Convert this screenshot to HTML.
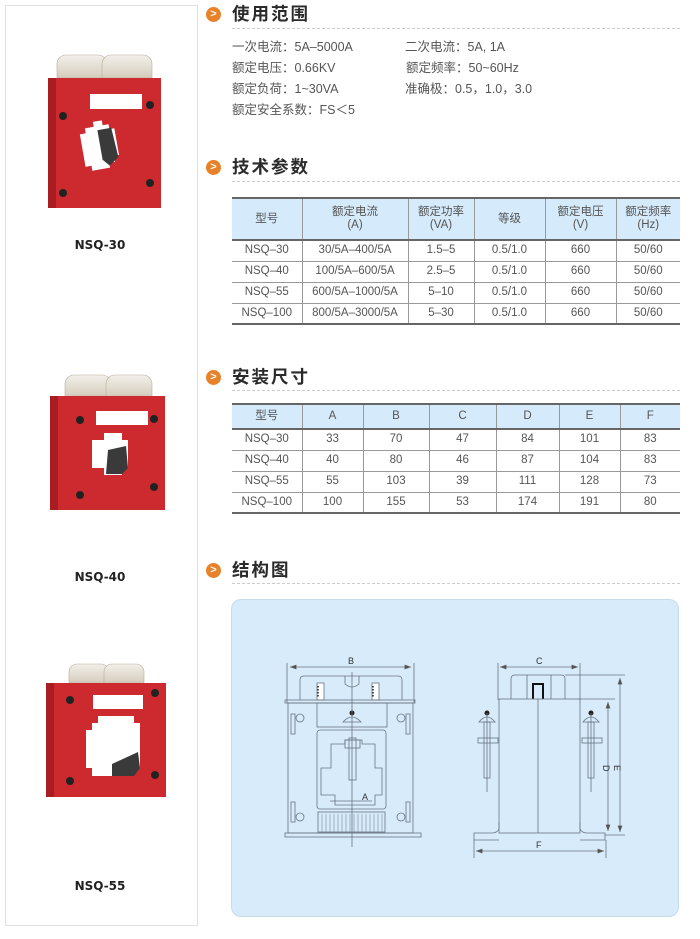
<!DOCTYPE html>
<html><head><meta charset="utf-8"><style>
*{margin:0;padding:0;box-sizing:border-box}
body{width:700px;height:939px;background:#fff;position:relative;overflow:hidden;font-family:"Liberation Sans","Noto Sans CJK SC",sans-serif;color:#555}
.abs{position:absolute}
.h{position:absolute;left:232px;font-size:17.5px;letter-spacing:2px;color:#2a2a2a;font-family:"Liberation Sans","Noto Sans CJK SC",sans-serif;line-height:20px;font-weight:bold}
.ic{position:absolute;left:206px;width:15px;height:15px;border-radius:50%;background:#e8822a;color:#fff;font-size:11px;font-weight:bold;line-height:15px;text-align:center}
.dash{position:absolute;left:232px;width:448px;border-top:1px dashed #ccc}
.sp{position:absolute;font-size:12.5px;color:#555;line-height:16px}
table{position:absolute;border-collapse:collapse;font-size:11.5px;color:#555;table-layout:fixed}
td{text-align:center;border-left:1px solid #999;border-bottom:1px solid #999;padding:0;line-height:13px}
td:first-child{border-left:none}
tr.hd td{background:#d5eafa;border-bottom:2px solid #666}
table{border-top:2px solid #666}
tr:last-child td{border-bottom:2px solid #666}
.lbl{position:absolute;font-size:12px;font-weight:bold;color:#222;width:100px;text-align:center;font-family:"DejaVu Sans","Liberation Sans",sans-serif}
</style></head><body>
<div class="abs" style="left:5px;top:5px;width:193px;height:921px;border:1px solid #e2e2e2"></div>

<svg class="abs" style="left:0;top:0" width="200" height="939">
 <defs><linearGradient id="cap" x1="0" y1="0" x2="0" y2="1"><stop offset="0" stop-color="#f3f0ea"/><stop offset="0.6" stop-color="#d9d2c4"/><stop offset="1" stop-color="#a89a86"/></linearGradient></defs>
 <!-- P1 -->
 <rect x="57" y="55" width="50" height="33" rx="9" fill="url(#cap)" stroke="#b8ad9a" stroke-width="0.6"/>
 <rect x="102" y="55" width="50" height="33" rx="9" fill="url(#cap)" stroke="#b8ad9a" stroke-width="0.6"/>
 <rect x="48" y="78" width="113" height="130" fill="#cc2a2e"/>
 <rect x="48" y="78" width="8" height="130" fill="#a91c22"/>
 <rect x="90" y="94" width="52" height="15" fill="#fff"/>
 <polygon points="97,121 106,121 106,126 112,126 112,131 117,131 117,158 112,158 112,164 106,164 106,169 88,169 88,164 82,164 82,131 88,131 88,126 97,126" fill="#fff" transform="rotate(-10 100 145)"/>
 <polygon points="100,130 114,130 116,160 106,167 100,160" fill="#3a3a3a" transform="rotate(-10 100 145)"/>
 <circle cx="63" cy="116" r="4" fill="#222"/><circle cx="150" cy="105" r="4" fill="#222"/>
 <circle cx="63" cy="193" r="4" fill="#222"/><circle cx="150" cy="183" r="4" fill="#222"/>
 <!-- P2 -->
 <rect x="65" y="375" width="46" height="31" rx="9" fill="url(#cap)" stroke="#b8ad9a" stroke-width="0.6"/>
 <rect x="106" y="375" width="46" height="31" rx="9" fill="url(#cap)" stroke="#b8ad9a" stroke-width="0.6"/>
 <rect x="50" y="396" width="115" height="114" fill="#cc2a2e"/>
 <rect x="50" y="396" width="8" height="114" fill="#a91c22"/>
 <rect x="96" y="411" width="52" height="14" fill="#fff"/>
 <polygon points="104,433 122,433 122,440 128,440 128,468 122,468 122,475 104,475 104,468 92,468 92,440 104,440" fill="#fff"/>
 <polygon points="108,450 126,446 128,468 122,474 106,474" fill="#3a3a3a"/>
 <circle cx="80" cy="420" r="4" fill="#222"/><circle cx="154" cy="419" r="4" fill="#222"/>
 <circle cx="80" cy="495" r="4" fill="#222"/><circle cx="154" cy="487" r="4" fill="#222"/>
 <!-- P3 -->
 <rect x="69" y="664" width="40" height="27" rx="8" fill="url(#cap)" stroke="#b8ad9a" stroke-width="0.6"/>
 <rect x="104" y="664" width="40" height="27" rx="8" fill="url(#cap)" stroke="#b8ad9a" stroke-width="0.6"/>
 <rect x="46" y="683" width="120" height="114" fill="#cc2a2e"/>
 <rect x="46" y="683" width="8" height="114" fill="#a91c22"/>
 <rect x="93" y="695" width="50" height="14" fill="#fff"/>
 <polygon points="98,716 134,716 134,723 140,723 140,768 134,768 134,776 92,776 92,768 86,768 86,730 92,730 92,723 98,723" fill="#fff"/>
 <polygon points="112,764 138,752 140,768 134,776 112,776" fill="#3a3a3a"/>
 <circle cx="70" cy="700" r="4" fill="#222"/><circle cx="155" cy="693" r="4" fill="#222"/>
 <circle cx="70" cy="781" r="4" fill="#222"/><circle cx="155" cy="775" r="4" fill="#222"/>
</svg>
<div class="lbl" style="left:50px;top:238px">NSQ-30</div>
<div class="lbl" style="left:50px;top:570px">NSQ-40</div>
<div class="lbl" style="left:50px;top:879px">NSQ-55</div>

<div class="ic" style="top:7px">&gt;</div><div class="h" style="top:4px">使用范围</div><div class="dash" style="top:28px"></div>
<div class="sp" style="left:232px;top:39px">一次电流：5A–5000A</div>
<div class="sp" style="left:405px;top:39px">二次电流：5A, 1A</div>
<div class="sp" style="left:232px;top:60px">额定电压：0.66KV</div>
<div class="sp" style="left:406px;top:60px">额定频率：50~60Hz</div>
<div class="sp" style="left:232px;top:81px">额定负荷：1~30VA</div>
<div class="sp" style="left:405px;top:81px">准确极：0.5，1.0，3.0</div>
<div class="sp" style="left:232px;top:102px">额定安全系数：FS＜5</div>

<div class="ic" style="top:160px">&gt;</div><div class="h" style="top:157px">技术参数</div><div class="dash" style="top:181px"></div>
<table style="left:232px;top:197px;width:448px">
<colgroup><col style="width:70px"><col style="width:106px"><col style="width:66px"><col style="width:71px"><col style="width:71px"><col style="width:64px"></colgroup>
<tr class="hd" style="height:42px"><td>型号</td><td>额定电流<br>(A)</td><td>额定功率<br>(VA)</td><td>等级</td><td>额定电压<br>(V)</td><td>额定频率<br>(Hz)</td></tr>
<tr style="height:21px"><td>NSQ–30</td><td>30/5A–400/5A</td><td>1.5–5</td><td>0.5/1.0</td><td>660</td><td>50/60</td></tr>
<tr style="height:21px"><td>NSQ–40</td><td>100/5A–600/5A</td><td>2.5–5</td><td>0.5/1.0</td><td>660</td><td>50/60</td></tr>
<tr style="height:21px"><td>NSQ–55</td><td>600/5A–1000/5A</td><td>5–10</td><td>0.5/1.0</td><td>660</td><td>50/60</td></tr>
<tr style="height:21px"><td>NSQ–100</td><td>800/5A–3000/5A</td><td>5–30</td><td>0.5/1.0</td><td>660</td><td>50/60</td></tr>
</table>

<div class="ic" style="top:370px">&gt;</div><div class="h" style="top:367px">安装尺寸</div><div class="dash" style="top:390px"></div>
<table style="left:232px;top:403px;width:448px">
<colgroup><col style="width:70px"><col style="width:61px"><col style="width:66px"><col style="width:67px"><col style="width:63px"><col style="width:61px"><col style="width:60px"></colgroup>
<tr class="hd" style="height:25px"><td>型号</td><td>A</td><td>B</td><td>C</td><td>D</td><td>E</td><td>F</td></tr>
<tr style="height:21px"><td>NSQ–30</td><td>33</td><td>70</td><td>47</td><td>84</td><td>101</td><td>83</td></tr>
<tr style="height:21px"><td>NSQ–40</td><td>40</td><td>80</td><td>46</td><td>87</td><td>104</td><td>83</td></tr>
<tr style="height:21px"><td>NSQ–55</td><td>55</td><td>103</td><td>39</td><td>111</td><td>128</td><td>73</td></tr>
<tr style="height:21px"><td>NSQ–100</td><td>100</td><td>155</td><td>53</td><td>174</td><td>191</td><td>80</td></tr>
</table>

<div class="ic" style="top:563px">&gt;</div><div class="h" style="top:560px">结构图</div><div class="dash" style="top:583px"></div>

<div class="abs" style="left:231px;top:599px;width:448px;height:318px;background:#d7ebfa;border-radius:10px;border:1px solid #c5dcef"></div>
<svg class="abs" style="left:0;top:0" width="700" height="939" font-family="Liberation Sans" font-size="9" fill="none" stroke="#6a7480" stroke-width="0.8">
 <defs><marker id="ar" markerWidth="8" markerHeight="6" refX="8" refY="3" orient="auto-start-reverse"><path d="M0,0L8,3L0,6z" fill="#555" stroke="none"/></marker></defs>
 <line x1="287" y1="663" x2="287" y2="703"/><line x1="414" y1="663" x2="414" y2="703"/>
 <line x1="290" y1="667" x2="411" y2="667" marker-start="url(#ar)" marker-end="url(#ar)"/>
 <text x="348" y="664" fill="#333" stroke="none">B</text>
 <path d="M300,700 V680 Q300,676 304,676 H398 Q402,676 402,680 V700"/>
 <rect x="317" y="683" width="7" height="17" fill="#fff"/><rect x="372" y="683" width="7" height="17" fill="#fff"/>
 <line x1="318" y1="686" x2="318" y2="698" stroke="#222" stroke-width="1.5" stroke-dasharray="1.5 1.5"/>
 <line x1="373" y1="686" x2="373" y2="698" stroke="#222" stroke-width="1.5" stroke-dasharray="1.5 1.5"/>
 <path d="M345,676 V684 Q352,690 359,684 V676"/>
 <rect x="285" y="700" width="130" height="3"/>
 <rect x="288" y="703" width="125" height="130"/>
 <rect x="317" y="703" width="70" height="24"/>
 <rect x="317" y="730" width="69" height="79" rx="3"/>
 <path d="M321,768 H331 V744 H345 V740 H362 V744 H375 V768 H382 V795 H375 V805 H335 V795 H321 Z"/>
 <rect x="349" y="738" width="7" height="42"/><rect x="345" y="740" width="15" height="8"/>
 <path d="M343,722 Q352,712 361,722 Z"/><circle cx="352" cy="713" r="2.5" fill="#222" stroke="none"/>
 <line x1="330" y1="801" x2="372" y2="801"/>
 <text x="362" y="800" fill="#333" stroke="none">A</text>
 <rect x="318" y="812" width="67" height="20"/>
 <g stroke-width="0.5"><path d="M322,814V832M326,814V832M330,814V832M334,814V832M338,814V832M342,814V832M346,814V832M350,814V832M354,814V832M358,814V832M362,814V832M366,814V832M370,814V832M374,814V832M378,814V832M382,814V832"/></g>
 <line x1="352" y1="672" x2="352" y2="847"/>
 <circle cx="300" cy="718" r="4"/><circle cx="401" cy="718" r="4"/><circle cx="300" cy="817" r="4"/><circle cx="401" cy="817" r="4"/>
 <rect x="291" y="714" width="4" height="20"/><rect x="406" y="714" width="4" height="20"/>
 <rect x="291" y="802" width="4" height="20"/><rect x="406" y="802" width="4" height="20"/>
 <rect x="285" y="833" width="136" height="4"/>
 <line x1="498" y1="663" x2="498" y2="700"/><line x1="580" y1="663" x2="580" y2="700"/>
 <line x1="500" y1="667" x2="578" y2="667" marker-start="url(#ar)" marker-end="url(#ar)"/>
 <text x="536" y="664" fill="#333" stroke="none">C</text>
 <path d="M511,699 V679 Q511,675 515,675 H561 Q565,675 565,679 V699"/>
 <line x1="527" y1="675" x2="527" y2="699"/><line x1="551" y1="675" x2="551" y2="699"/>
 <path d="M533,699 V684 H543 V699" stroke="#111" stroke-width="2"/>
 <rect x="499" y="699" width="81" height="134"/>
 <line x1="538" y1="699" x2="538" y2="833"/>
 <path d="M499,822 V829 Q497,833 492,833 H474 V840 H499"/>
 <path d="M580,822 V829 Q582,833 587,833 H605 V840 H580"/>
 <g>
  <path d="M479,722 Q487,712 495,722 Z"/><circle cx="487" cy="713" r="2.5" fill="#222" stroke="none"/>
  <rect x="484" y="722" width="6" height="56"/><rect x="478" y="738" width="20" height="5"/>
  <line x1="487" y1="713" x2="487" y2="792"/>
  <path d="M583,722 Q591,712 599,722 Z"/><circle cx="591" cy="713" r="2.5" fill="#222" stroke="none"/>
  <rect x="588" y="722" width="6" height="56"/><rect x="582" y="738" width="20" height="5"/>
  <line x1="591" y1="713" x2="591" y2="792"/>
 </g>
 <line x1="565" y1="675" x2="625" y2="675"/><line x1="580" y1="699" x2="615" y2="699"/><line x1="605" y1="835" x2="625" y2="835"/>
 <line x1="608" y1="702" x2="608" y2="831" marker-start="url(#ar)" marker-end="url(#ar)"/>
 <line x1="620" y1="678" x2="620" y2="832" marker-start="url(#ar)" marker-end="url(#ar)"/>
 <text x="0" y="0" transform="translate(603,765) rotate(90)" fill="#333" stroke="none">D</text>
 <text x="0" y="0" transform="translate(614,765) rotate(90)" fill="#333" stroke="none">E</text>
 <line x1="474" y1="840" x2="474" y2="858"/><line x1="606" y1="840" x2="606" y2="858"/>
 <line x1="476" y1="851" x2="604" y2="851" marker-start="url(#ar)" marker-end="url(#ar)"/>
 <text x="536" y="848" fill="#333" stroke="none">F</text>
</svg>
</body></html>
